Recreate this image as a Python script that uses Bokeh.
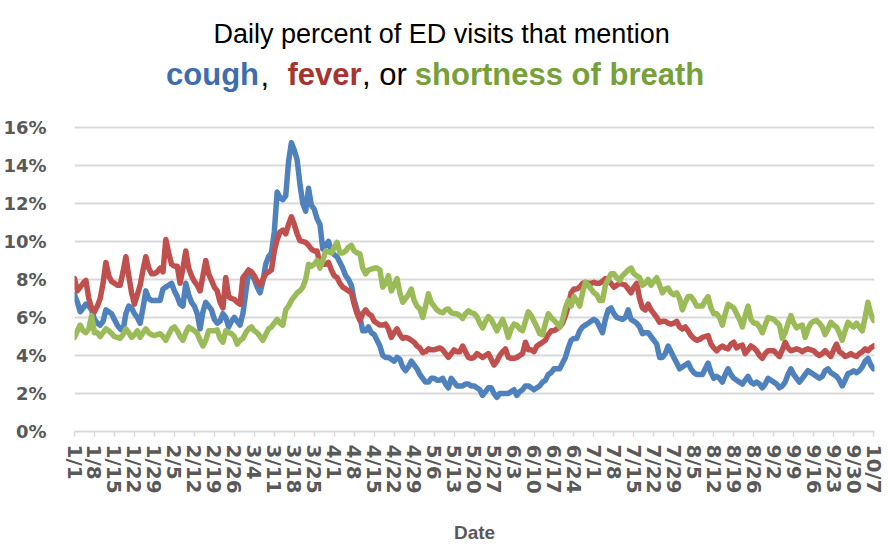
from bokeh.plotting import figure
from bokeh.models import Range1d, FixedTicker, Label, ColumnDataSource
from bokeh.embed import file_html
from bokeh.resources import INLINE

# ---- data (daily percent of ED visits, 1/1 .. 10/7) ----
tick_labels = ["1/1", "1/8", "1/15", "1/22", "1/29", "2/5", "2/12", "2/19", "2/26",
               "3/4", "3/11", "3/18", "3/25", "4/1", "4/8", "4/15", "4/22", "4/29",
               "5/6", "5/13", "5/20", "5/27", "6/3", "6/10", "6/17", "6/24", "7/1",
               "7/8", "7/15", "7/22", "7/29", "8/5", "8/12", "8/19", "8/26", "9/2",
               "9/9", "9/16", "9/23", "9/30", "10/7"]
y_ticks = [0, 2, 4, 6, 8, 10, 12, 14, 16]

cough = [
    7.2, 6.8, 6.3, 6.5, 6.7, 6.6, 6.4,
    5.9, 5.7, 5.6, 5.8, 6.4, 6.3, 6.2,
    5.9, 5.6, 5.4, 5.3, 6.2, 6.6, 6.5,
    6.2, 6.0, 5.7, 6.5, 7.4, 7.0, 6.9,
    6.9, 6.9, 6.9, 7.5, 7.6, 7.7, 7.8,
    7.4, 7.1, 6.7, 6.6, 7.8, 7.2, 6.8,
    6.6, 6.2, 5.4, 6.3, 6.8, 6.6, 6.4,
    5.9, 5.7, 5.8, 6.2, 6.0, 5.5, 5.8,
    6.0, 5.8, 5.6, 6.2, 7.3, 8.4, 8.3,
    8.0, 7.6, 7.3, 7.9, 8.8, 9.2, 9.4,
    10.5, 12.6, 12.3, 12.2, 12.4, 14.2, 15.2,
    14.8, 14.3, 13.0, 12.0, 11.6, 12.8, 11.9,
    11.7, 11.2, 10.9, 9.6, 9.8, 10.0, 9.5,
    9.3, 9.2, 8.9, 8.6, 8.2, 8.0, 7.7,
    6.9, 6.4, 6.0, 5.3, 5.3, 5.5, 5.2,
    5.1, 4.8, 4.5, 4.0, 3.9, 3.9, 3.8,
    3.7, 3.9, 3.8, 3.4, 3.2, 3.4, 3.7,
    3.5, 3.3, 3.0, 2.8, 2.6, 2.6, 2.8,
    2.8, 2.7, 2.7, 2.8, 2.5, 2.3, 2.8,
    2.6, 2.4, 2.4, 2.4, 2.5, 2.5, 2.4,
    2.4, 2.3, 2.2, 1.9, 2.1, 2.3, 2.3,
    2.0, 1.8, 2.0, 2.0, 2.0, 2.0, 2.1,
    2.2, 1.9, 2.1, 2.2, 2.4, 2.4, 2.3,
    2.2, 2.3, 2.4, 2.6, 2.7, 3.0, 3.1,
    3.3, 3.3, 3.3, 3.6, 3.9, 4.4, 4.8,
    4.9, 4.9, 5.3, 5.5, 5.6, 5.7, 5.8,
    5.9, 5.8, 5.5, 5.2, 5.9, 6.4, 6.5,
    6.2, 6.0, 5.95, 5.9, 6.0, 6.4, 5.9,
    5.8, 5.7, 5.5, 5.15, 5.2, 5.2, 5.0,
    4.8, 4.6, 3.9, 3.9, 4.1, 4.5, 4.2,
    3.9, 3.6, 3.3, 3.4, 3.5, 3.6, 3.3,
    3.1, 3.0, 3.0, 3.0, 3.3, 3.6, 3.1,
    2.8, 2.9, 2.8, 2.6, 3.0, 3.3, 3.0,
    2.8, 2.7, 2.6, 2.5, 2.7, 2.9, 2.6,
    2.5, 2.6, 2.5, 2.3, 2.5, 2.8, 2.7,
    2.6, 2.5, 2.3, 2.4, 2.6, 3.0, 3.3,
    3.0, 2.8, 2.6, 2.8, 3.0, 3.2, 3.1,
    3.0, 2.9, 2.8, 2.9, 3.2, 3.3, 3.1,
    3.0, 2.9, 2.7, 2.4, 2.7, 3.05, 3.1,
    3.2, 3.1, 3.2, 3.4, 3.7, 3.85, 3.5,
    3.3,
]

fever = [
    8.05, 7.4, 7.6, 7.8, 7.95, 7.0, 6.5,
    6.3, 6.6, 7.0, 7.8, 8.9, 8.2, 7.9,
    7.8, 7.7, 7.7, 8.4, 9.2, 8.2, 7.3,
    6.7, 7.2, 7.7, 8.5, 9.2, 8.6, 8.3,
    8.3, 8.4, 8.6, 8.4, 10.1, 9.4, 8.8,
    8.7, 8.7, 7.8, 8.6, 9.5, 8.6, 8.2,
    7.9, 7.7, 7.4, 8.2, 9.0, 8.3, 7.95,
    7.6, 7.4, 6.8, 6.5, 8.1, 7.1, 7.0,
    6.95, 6.8, 6.7, 8.1, 8.3, 8.5, 8.4,
    8.2, 7.9, 7.7, 8.0, 8.3, 8.4, 8.5,
    9.5, 10.1, 10.5, 10.6, 10.4, 10.9, 11.3,
    10.9, 10.4, 10.05, 10.0, 9.95, 9.8, 9.6,
    9.5, 9.5, 8.8, 8.8, 8.8, 8.9, 8.5,
    8.2, 8.1, 7.8, 7.6, 7.5, 7.4, 7.3,
    6.7, 6.2, 5.85, 6.2, 6.4, 6.2, 6.1,
    5.8, 5.7, 5.6, 5.6, 5.65, 5.4, 4.95,
    5.2, 5.4, 5.1, 4.9, 4.95, 4.9, 4.8,
    4.7, 4.5, 4.4, 4.15, 4.2, 4.35, 4.3,
    4.3, 4.35, 4.4, 4.3, 4.1, 3.9, 4.1,
    4.3, 4.2, 4.2, 4.5, 4.2, 3.9, 3.85,
    3.9, 4.1, 4.0, 3.9, 4.0, 4.1, 3.8,
    3.5, 3.7, 4.0, 4.2, 4.35, 3.9, 3.85,
    3.85, 3.9, 4.0, 4.1, 4.7, 4.3, 4.3,
    4.2, 4.5, 4.6, 4.7, 4.8, 5.1, 5.3,
    5.3, 5.4, 5.5, 5.7, 6.1, 6.6, 7.3,
    7.5, 7.5, 7.6, 7.8, 7.85, 7.8, 7.8,
    7.85, 7.8, 7.8, 7.9, 8.05, 7.9, 7.8,
    7.6, 7.7, 7.8, 7.75, 7.7, 7.5, 7.3,
    7.6, 7.8, 7.0, 6.5, 6.4, 6.7, 6.4,
    6.2, 6.0, 5.75, 5.8, 5.8, 5.7, 5.65,
    5.7, 5.8, 5.5, 5.4, 5.5, 5.3, 5.05,
    4.9, 4.8, 4.85, 4.95, 5.0, 5.05, 4.6,
    4.4, 4.25, 4.4, 4.5, 4.4, 4.35, 4.6,
    4.7, 4.4, 4.5, 4.55, 4.1, 4.3, 4.5,
    4.4, 4.25, 4.0, 3.85, 4.1, 4.25, 4.25,
    4.25, 4.1, 3.95, 4.3, 4.7, 4.4, 4.25,
    4.3, 4.35, 4.3, 4.2, 4.3, 4.35, 4.3,
    4.25, 4.1, 4.0, 4.1, 4.25, 4.1, 3.95,
    4.3, 4.6, 4.2, 4.1, 3.95, 4.0, 4.1,
    4.0, 3.95, 4.1, 4.2, 4.35, 4.25, 4.4,
    4.5,
]

breath = [
    4.95, 5.3, 5.6, 5.3, 5.2, 5.4, 6.1,
    5.2, 5.2, 5.0, 5.2, 5.4, 5.3, 5.15,
    5.0, 4.95, 4.9, 5.1, 5.4, 5.2, 4.95,
    5.1, 5.3, 4.95, 5.2, 5.4, 5.2, 5.1,
    5.05, 5.1, 5.15, 5.0, 4.8, 5.1, 5.4,
    5.5, 5.3, 5.0, 4.8, 5.2, 5.5, 5.4,
    5.3, 5.15, 4.8, 4.5, 4.8, 5.3, 5.3,
    5.3, 5.35, 4.9, 4.7, 5.3, 5.2, 5.15,
    5.0, 4.6, 4.8, 4.9, 5.2, 5.4, 5.5,
    5.3, 5.2, 5.0, 4.8, 5.1, 5.4, 5.5,
    5.7, 5.9, 5.7, 5.6, 6.4, 6.6, 6.9,
    7.1, 7.3, 7.4, 7.6, 8.0, 8.8, 8.7,
    8.8, 9.0, 8.6, 9.0, 9.5, 9.45, 9.4,
    9.7, 9.95, 9.4, 9.4, 9.5, 9.7, 9.8,
    9.5, 9.4, 9.35, 8.6, 8.3, 8.5, 8.55,
    8.6, 8.6, 8.5, 7.6, 7.8, 8.2, 7.4,
    7.7, 8.05, 7.3, 6.8, 7.0, 7.2, 7.5,
    6.9, 6.6, 6.45, 6.0, 6.6, 7.25, 6.8,
    6.6, 6.4, 6.3, 6.25, 6.4, 6.45, 6.25,
    6.2, 6.2, 6.1, 5.95, 6.2, 6.35, 6.25,
    6.2, 6.05, 5.7, 5.45, 5.8, 6.05, 5.9,
    5.6, 5.3, 5.6, 5.9, 5.5, 4.95, 5.4,
    5.65, 5.6, 5.4, 5.3, 5.8, 6.3, 6.1,
    5.8, 5.5, 5.15, 5.1, 5.7, 6.2, 6.0,
    5.85, 5.7, 5.5, 5.9, 6.5, 6.9, 6.6,
    7.1, 6.9, 6.6, 7.3, 7.85, 7.7, 7.5,
    7.3, 7.2, 6.9, 6.9, 7.7, 8.0, 8.3,
    8.3, 8.1, 7.95, 8.2, 8.35, 8.5, 8.6,
    8.3, 8.2, 8.1, 7.7, 7.8, 8.0, 7.7,
    7.9, 8.1, 7.7, 7.3, 7.5, 7.55, 7.3,
    7.2, 7.3, 7.0, 6.4, 6.8, 7.1, 7.1,
    6.9, 6.6, 6.6, 6.6, 6.9, 7.1, 6.5,
    6.2, 6.2, 6.0, 5.6, 6.2, 6.7, 6.6,
    6.5, 6.2, 5.9, 5.5, 6.1, 6.6, 5.9,
    5.7, 5.7, 5.5, 5.2, 5.6, 6.0, 5.95,
    5.9, 5.75, 5.6, 4.9, 5.2, 5.7, 6.1,
    5.7, 5.45, 5.55, 5.6, 4.95, 5.4, 5.7,
    5.8, 5.85, 5.7, 5.5, 5.1, 5.4, 5.75,
    5.6, 5.5, 5.2, 4.8, 5.3, 5.75, 5.6,
    5.5, 5.7, 5.5, 5.3, 6.0, 6.8, 6.2,
    5.85,
]

series = [("cough", cough, "#4F81BD"),
          ("fever", fever, "#C0504D"),
          ("breath", breath, "#9BBB59")]

X_END = 280.3
PX_PER_UNIT = 19.0          # pixels per 1 % on the y axis
FRAME_L = 70
FRAME_W = 804
FRAME_H = 431               # frame spans from top of figure to the 0 % line
Y_END = FRAME_H / PX_PER_UNIT

p = figure(width=888, height=547, output_backend="svg", toolbar_location=None,
           x_range=Range1d(0, X_END), y_range=Range1d(0, Y_END),
           min_border_left=FRAME_L, min_border_right=888 - FRAME_L - FRAME_W,
           min_border_top=0, min_border_bottom=547 - FRAME_H)
p.outline_line_color = None
p.background_fill_color = "white"
p.border_fill_color = "white"

for name, vals, col in series:
    src = ColumnDataSource(dict(x=list(range(len(vals))), y=vals))
    p.line("x", "y", source=src, line_color=col, line_width=5.5, line_join="round",
           line_cap="round")

# grid
p.xgrid.visible = False
p.ygrid.grid_line_color = "#d9d9d9"
p.ygrid.grid_line_width = 2
p.ygrid.ticker = FixedTicker(ticks=y_ticks)

# y axis
ya = p.yaxis[0]
ya.ticker = FixedTicker(ticks=y_ticks)
ya.major_label_overrides = {t: f"{t}%" for t in y_ticks}
ya.axis_line_color = None
ya.major_tick_line_color = None
ya.minor_tick_line_color = None
ya.major_label_text_font = "DejaVu Sans"
ya.major_label_text_font_style = "bold"
ya.major_label_text_font_size = "18px"
ya.major_label_text_color = "#595959"
ya.major_label_standoff = 22

# x axis
xt = [7 * i for i in range(len(tick_labels))]
xa = p.xaxis[0]
xa.ticker = FixedTicker(ticks=xt)
xa.major_label_overrides = {t: l for t, l in zip(xt, tick_labels)}
xa.major_label_orientation = "vertical"
xa.axis_line_color = "#d9d9d9"
xa.axis_line_width = 2
xa.major_tick_line_color = "#d9d9d9"
xa.major_tick_line_width = 1.5
xa.major_tick_out = 5
xa.major_tick_in = 0
xa.minor_tick_line_color = None
xa.major_label_text_font = "DejaVu Sans"
xa.major_label_text_font_style = "bold"
xa.major_label_text_font_size = "20px"
xa.major_label_text_color = "#595959"
xa.major_label_standoff = 8
xa.axis_label = "Date"
xa.axis_label_text_font = "Liberation Sans"
xa.axis_label_text_font_style = "bold"
xa.axis_label_text_font_size = "19px"
xa.axis_label_text_color = "#595959"
xa.axis_label_standoff = 25


def px(xp):
    return (xp - FRAME_L) * X_END / FRAME_W


def py(yp):
    return (FRAME_H - yp) / PX_PER_UNIT


p.add_layout(Label(x=px(439), y=py(33), text="Daily percent of ED visits that mention",
                   text_font="Liberation Sans", text_font_size="27px",
                   text_color="black", text_align="center", text_baseline="alphabetic"))

parts = [("cough", 162, "#3D6DB0", "bold"),
         (",", 257, "black", "normal"),
         ("fever", 284, "#A5352F", "bold"),
         (", or", 359, "black", "normal"),
         ("shortness of breath", 412, "#76A03A", "bold")]
for txt, xpos, col, style in parts:
    p.add_layout(Label(x=px(xpos), y=py(74), text=txt, text_font="Liberation Sans",
                       text_font_size="31px", text_font_style=style, text_color=col,
                       text_align="left", text_baseline="alphabetic"))

open("out.html", "w").write(file_html(p, INLINE))
